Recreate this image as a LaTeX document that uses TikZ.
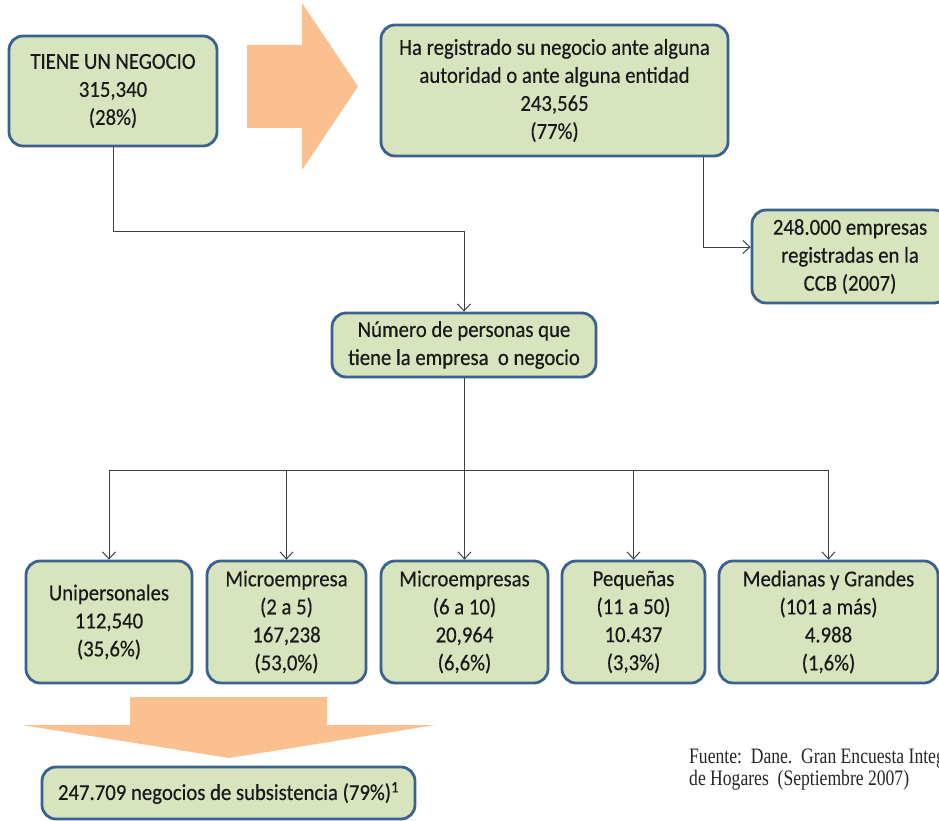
\documentclass[tikz,border=0pt]{standalone}
\usepackage{fontspec}
\setmainfont{Carlito}[FakeStretch=0.91, FakeBold=0.35]
\newfontfamily\seriffont{Liberation Serif}[FakeStretch=0.8]
\usetikzlibrary{arrows.meta}
\definecolor{boxgreen}{HTML}{D7E4BD}
\definecolor{boxblue}{HTML}{3A6190}
\definecolor{arroworange}{HTML}{FAC090}
\definecolor{linegray}{HTML}{404040}
\begin{document}
\begin{tikzpicture}[x=1pt,y=-1pt,
  box/.style={draw=boxblue, line width=2.8pt, fill=boxgreen, rounded corners=14pt,
    align=center, inner sep=0pt, font=\fontsize{22.8}{28}\selectfont, text=black!90},
  conn/.style={draw=linegray, line width=1pt, -{Straight Barb[length=7pt,width=13pt]}},
  plain/.style={draw=linegray, line width=1pt},
  bigarrow/.style={fill=arroworange, draw=none},
  note/.style={anchor=base west, inner sep=0pt, font=\seriffont\fontsize{22}{22}\selectfont, text=black!85}
]
\useasboundingbox (0,0) rectangle (939,821);

% orange block arrows
\fill[bigarrow] (247,45) -- (302,45) -- (302,3) -- (358,86.5) -- (302,170) -- (302,128) -- (247,128) -- cycle;
\fill[bigarrow] (130,697) -- (327,697) -- (327,725) -- (435,725) -- (229,758) -- (22,725) -- (130,725) -- cycle;

% boxes
\node[box, minimum width=208pt, minimum height=110pt] (tiene) at (113,91)
  {TIENE UN NEGOCIO\\315,340\\(28\%)};
\node[box, minimum width=347pt, minimum height=131pt] (ha) at (554.5,90.5)
  {Ha registrado su negocio ante alguna\\autoridad o ante alguna entidad\\243,565\\(77\%)};
\node[box, minimum width=196pt, minimum height=93pt] (ccb) at (850,256.5)
  {248.000 empresas\\registradas en la\\CCB (2007)};
\node[box, minimum width=264pt, minimum height=64pt] (numero) at (464,345)
  {Número de personas que\\tiene la empresa~ o negocio};
\node[box, minimum width=166pt, minimum height=122pt] (uni) at (109,622)
  {Unipersonales\\112,540\\(35,6\%)};
\node[box, minimum width=159pt, minimum height=122pt] (mic1) at (286.5,622)
  {Microempresa\\(2 a 5)\\167,238\\(53,0\%)};
\node[box, minimum width=167pt, minimum height=122pt] (mic2) at (464.5,622)
  {Microempresas\\(6 a 10)\\20,964\\(6,6\%)};
\node[box, minimum width=143pt, minimum height=122pt] (peq) at (633.5,622)
  {Pequeñas\\(11 a 50)\\10.437\\(3,3\%)};
\node[box, minimum width=219pt, minimum height=122pt] (med) at (828.5,622)
  {Medianas y Grandes\\(101 a más)\\4.988\\(1,6\%)};
\node[box, minimum width=373pt, minimum height=52pt] (sub) at (228.5,793)
  {247.709 negocios de subsistencia (79\%)\textsuperscript{1}};

% connectors
\draw[conn] (tiene.south) -- ++(0,84) -| (numero.north);
\draw[conn] ([xshift=-26pt]ha.south east) |- ([yshift=9.5pt]ccb.west);
\coordinate (hub) at (464,470);
\draw[plain] (numero.south) -- (hub);
\draw[plain] (uni.north |- hub) -- (med.north |- hub);
\foreach \n in {uni,mic1,mic2,peq,med}
  \draw[conn] (\n.north |- hub) -- (\n.north);

% source note
\node[note] (fuente1) at (689,763) {Fuente:\ \ Dane.\ \ Gran Encuesta Integrada};
\node[note] (fuente2) at (689,785) {de Hogares\ \ (Septiembre 2007)};
\end{tikzpicture}
\end{document}
